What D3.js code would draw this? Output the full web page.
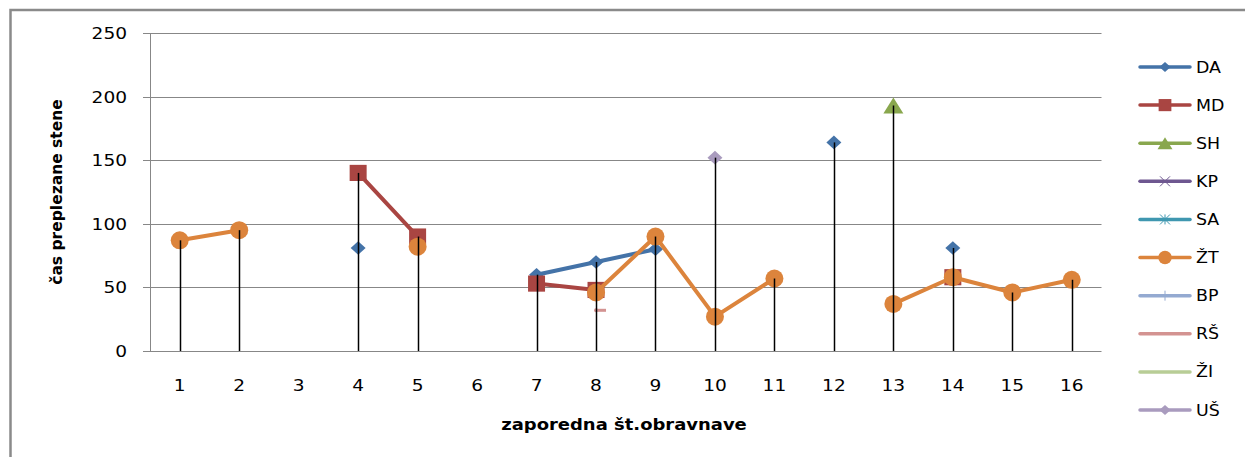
<!DOCTYPE html>
<html>
<head>
<meta charset="utf-8">
<script src="https://cdn.jsdelivr.net/npm/d3@7"></script>
<style>
  body { margin: 0; background: #fff; }
  svg { display: block; font-family: "DejaVu Sans", sans-serif; }
</style>
</head>
<body>
<svg width="1245" height="457"></svg>
<script>
var categories = [1, 2, 3, 4, 5, 6, 7, 8, 9, 10, 11, 12, 13, 14, 15, 16];
var yTicks = [0, 50, 100, 150, 200, 250];

// values per obravnava (null = no value)
var DA = [null, null, null, 81, null, null, 60, 70, 80, null, null, 164, null, 81, null, null];
var MD = [null, null, null, 140, 90, null, 53, 48, null, null, null, null, null, 58, null, null];
var SH = [null, null, null, null, null, null, null, null, null, null, null, null, 193, null, null, null];
var KP = [null, null, null, null, null, null, null, null, null, null, null, null, null, null, null, null];
var SA = [null, null, null, null, null, null, null, null, null, null, null, null, null, null, null, null];
var ZT = [87, 95, null, null, 82, null, null, 46, 90, 27, 57, null, 37, 58, 46, 56];
var BP = [null, null, null, null, null, null, null, null, null, null, null, null, null, null, null, null];
var RS = [null, null, null, null, null, null, null, 32, null, null, null, null, null, null, null, null];
var ZI = [null, null, null, null, null, null, null, null, null, null, null, null, null, null, null, null];
var US = [null, null, null, null, null, null, null, null, null, 152, null, null, null, null, null, null];

var seriesNames = ["DA", "MD", "SH", "KP", "SA", "ŽT", "BP", "RŠ", "ŽI", "UŠ"];
var seriesValues = [DA, MD, SH, KP, SA, ZT, BP, RS, ZI, US];
var seriesColors = ["#4473a8", "#a94542", "#89a74e", "#6e5790", "#3f97b0", "#dc843c", "#94aad1", "#d39391", "#b8cd96", "#a99bbe"];
var seriesMarkers = ["diamond", "square", "triangle", "x", "star", "circle", "plus", "dash", "none", "diamond"];

var margin = {left: 150, top: 33, right: 1101.5, bottom: 351};
var sx = 1.16; // text is a bit wider than it is tall in the picture

var svg = d3.select("svg");

var xScale = d3.scaleBand().domain(categories).range([margin.left, margin.right]).padding(0);
var yScale = d3.scaleLinear().domain([0, 250]).range([margin.bottom, margin.top]);

function cx(c) { return xScale(c) + xScale.bandwidth() / 2; }

// outer frame (cut off on the right and bottom)
svg.append("rect")
  .attr("x", 10.5).attr("y", 10)
  .attr("width", 1400).attr("height", 600)
  .attr("fill", "none")
  .attr("stroke", "#8a8a8a")
  .attr("stroke-width", 2.5);

// grid lines + tick stubs
svg.append("g").selectAll("line")
  .data(yTicks)
  .enter()
  .append("line")
  .attr("x1", 143).attr("x2", margin.right)
  .attr("y1", function (d) { return Math.round(yScale(d)) + 0.5; })
  .attr("y2", function (d) { return Math.round(yScale(d)) + 0.5; })
  .attr("stroke", "#878787")
  .attr("stroke-width", 1);

// y axis line
svg.append("line")
  .attr("x1", margin.left + 0.5).attr("x2", margin.left + 0.5)
  .attr("y1", margin.top).attr("y2", margin.bottom)
  .attr("stroke", "#878787");

// y tick labels
svg.append("g").selectAll("text")
  .data(yTicks)
  .enter()
  .append("text")
  .attr("transform", function (d) { return "translate(127," + (yScale(d) + 6) + ") scale(" + sx + ",1)"; })
  .attr("text-anchor", "end")
  .attr("font-size", 16)
  .attr("fill", "#000")
  .text(function (d) { return d; });

// x tick labels
svg.append("g").selectAll("text")
  .data(categories)
  .enter()
  .append("text")
  .attr("transform", function (d) { return "translate(" + cx(d) + ",391) scale(" + sx + ",1)"; })
  .attr("text-anchor", "middle")
  .attr("font-size", 16)
  .attr("fill", "#000")
  .text(function (d) { return d; });

// axis titles
svg.append("text")
  .attr("transform", "translate(62,192) rotate(-90)")
  .attr("text-anchor", "middle")
  .attr("font-size", 15.5)
  .attr("font-weight", "bold")
  .text("čas preplezane stene");

svg.append("text")
  .attr("transform", "translate(624,430) scale(" + sx + ",1)")
  .attr("text-anchor", "middle")
  .attr("font-size", 15.5)
  .attr("font-weight", "bold")
  .text("zaporedna št.obravnave");

// marker shapes
function drawMarker(g, type, x, y, color, small) {
  var k = small ? 0.75 : 1;
  if (type === "diamond") {
    var w = 7.5 * k, h = 6.8 * k;
    g.append("path")
      .attr("d", "M" + (x - w) + "," + y + "L" + x + "," + (y - h) + "L" + (x + w) + "," + y + "L" + x + "," + (y + h) + "Z")
      .attr("fill", color);
  } else if (type === "square") {
    var s = 8.5 * k;
    g.append("rect")
      .attr("x", x - s).attr("y", y - s * 0.95)
      .attr("width", 2 * s).attr("height", 1.9 * s)
      .attr("fill", color);
  } else if (type === "triangle") {
    var tw = 10 * k, th = 8 * k;
    g.append("path")
      .attr("d", "M" + (x - tw) + "," + (y + th) + "L" + x + "," + (y - th) + "L" + (x + tw) + "," + (y + th) + "Z")
      .attr("fill", color);
  } else if (type === "circle") {
    g.append("circle")
      .attr("cx", x).attr("cy", y)
      .attr("r", 9 * k)
      .attr("fill", color);
  } else if (type === "x") {
    var a = 5;
    g.append("path")
      .attr("d", "M" + (x - a) + "," + (y - a) + "L" + (x + a) + "," + (y + a) + "M" + (x - a) + "," + (y + a) + "L" + (x + a) + "," + (y - a))
      .attr("stroke", color).attr("stroke-width", 1);
  } else if (type === "star") {
    var b = 5;
    g.append("path")
      .attr("d", "M" + (x - b) + "," + (y - b) + "L" + (x + b) + "," + (y + b) + "M" + (x - b) + "," + (y + b) + "L" + (x + b) + "," + (y - b) + "M" + x + "," + (y - b) + "L" + x + "," + (y + b))
      .attr("stroke", color).attr("stroke-width", 1);
  } else if (type === "plus") {
    g.append("path")
      .attr("d", "M" + x + "," + (y - 5) + "L" + x + "," + (y + 5) + "M" + (x - 5) + "," + y + "L" + (x + 5) + "," + y)
      .attr("stroke", color).attr("stroke-width", 1);
  } else if (type === "dash") {
    g.append("rect")
      .attr("x", x + 1).attr("y", y - 1.5)
      .attr("width", 9).attr("height", 3)
      .attr("fill", color);
  }
}

var line = d3.line()
  .defined(function (d) { return d.v != null; })
  .x(function (d) { return cx(d.c); })
  .y(function (d) { return yScale(d.v); });

var plot = svg.append("g");

seriesValues.forEach(function (vals, i) {
  var pts = categories.map(function (c, j) { return {c: c, v: vals[j]}; });
  var g = plot.append("g");
  g.append("path")
    .datum(pts)
    .attr("d", line)
    .attr("fill", "none")
    .attr("stroke", seriesColors[i])
    .attr("stroke-width", 4)
    .attr("stroke-linejoin", "round")
    .attr("stroke-linecap", "round");
  pts.forEach(function (p) {
    if (p.v != null) drawMarker(g, seriesMarkers[i], cx(p.c), yScale(p.v), seriesColors[i], false);
  });
});

// drop lines from highest value down to the axis
var highs = categories.map(function (c, j) {
  var m = d3.max(seriesValues, function (s) { return s[j]; });
  return {c: c, v: m};
}).filter(function (d) { return d.v != null; });

svg.append("g").selectAll("line")
  .data(highs)
  .enter()
  .append("line")
  .attr("x1", function (d) { return Math.round(cx(d.c)) + 0.5; })
  .attr("x2", function (d) { return Math.round(cx(d.c)) + 0.5; })
  .attr("y1", function (d) { return yScale(d.v); })
  .attr("y2", yScale(0))
  .attr("stroke", "#000")
  .attr("stroke-width", 1.5);

// legend
var legendY = d3.scalePoint().domain(seriesNames).range([67, 410]);
var legend = svg.append("g");
seriesNames.forEach(function (name, i) {
  var y = legendY(name);
  legend.append("line")
    .attr("x1", 1140).attr("x2", 1190)
    .attr("y1", y).attr("y2", y)
    .attr("stroke", seriesColors[i])
    .attr("stroke-width", 3.5)
    .attr("stroke-linecap", "round");
  if (seriesMarkers[i] !== "dash") drawMarker(legend, seriesMarkers[i], 1165, y, seriesColors[i], true);
  legend.append("text")
    .attr("transform", "translate(1196," + (y + 5.5) + ") scale(" + sx + ",1)")
    .attr("font-size", 15)
    .attr("fill", "#000")
    .text(name);
});
</script>
</body>
</html>
